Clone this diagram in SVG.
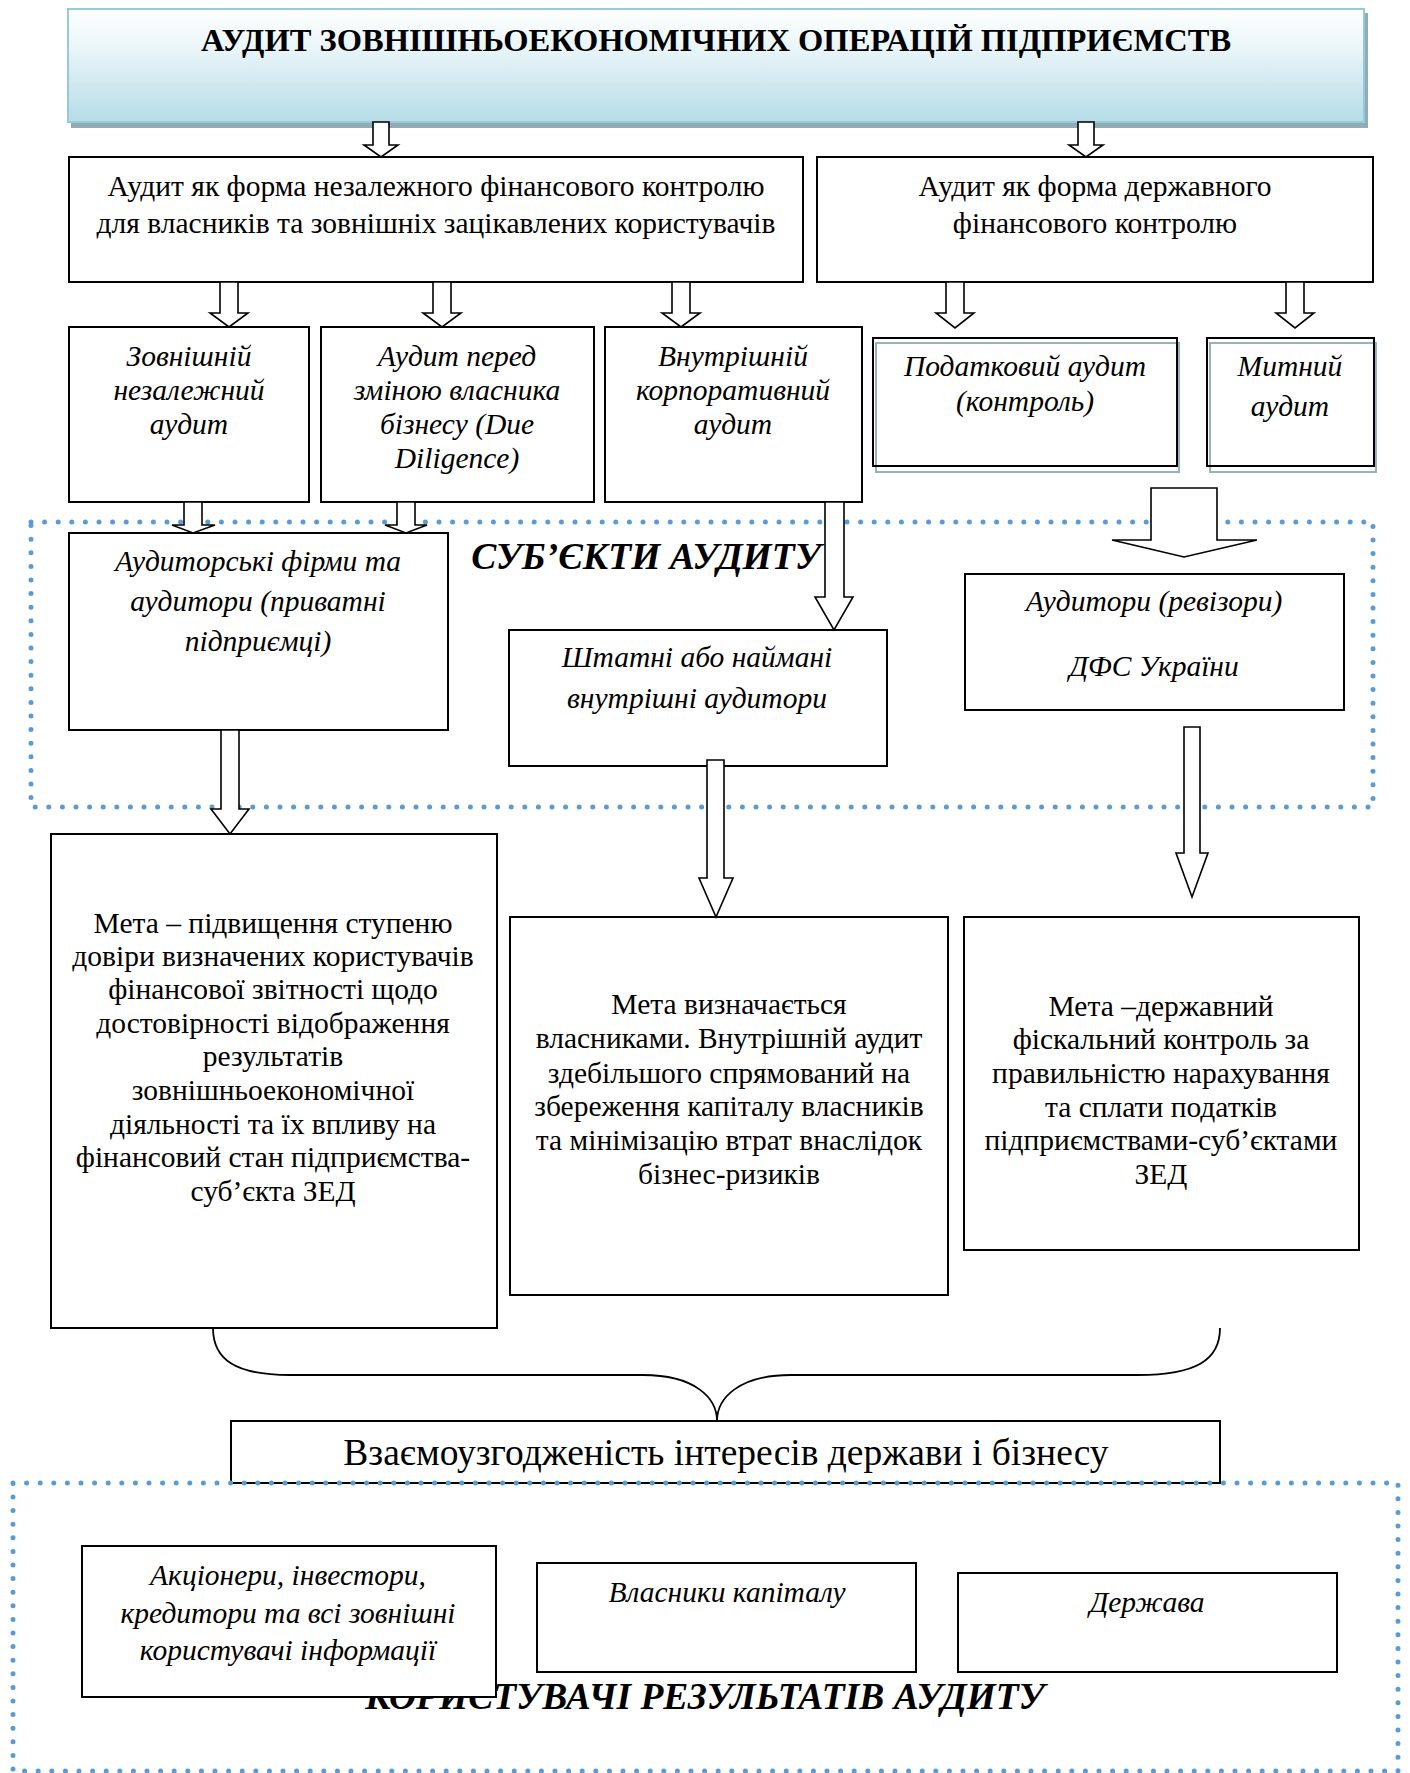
<svg xmlns="http://www.w3.org/2000/svg" width="1410" height="1773" viewBox="0 0 1410 1773">
<defs>
<linearGradient id="tg" x1="0" y1="0" x2="0" y2="1">
<stop offset="0" stop-color="#ffffff"/>
<stop offset="0.35" stop-color="#e9f5f8"/>
<stop offset="1" stop-color="#b5dce7"/>
</linearGradient>
<style>
.box{fill:#fff;stroke:#000;stroke-width:2}
.sh{fill:#fff;stroke:#98b2bc;stroke-width:2}
.arr{fill:#fff;stroke:#000;stroke-width:1.6;stroke-linejoin:miter}
.dot{fill:none;stroke:#5b9bd5;stroke-width:5;stroke-dasharray:0 13.6;stroke-linecap:round}
.br{fill:none;stroke:#000;stroke-width:1.8}
text{font-family:"Liberation Serif","Times New Roman",serif;fill:#000;text-anchor:middle}
.n{font-size:29.5px}
.i{font-size:29.5px;font-style:italic}
.h{font-size:32.5px;font-weight:bold}
.hi{font-size:37.5px;font-weight:bold;font-style:italic}
.big{font-size:37.5px}
</style>
</defs>
<rect width="1410" height="1773" fill="#fff"/>

<g id="title">
<rect x="71" y="13" width="1297" height="115" fill="#93abb5"/>
<rect x="68" y="9" width="1296" height="113" fill="url(#tg)" stroke="#94cbdb" stroke-width="2"/>
<text class="h" x="716" y="51">АУДИТ ЗОВНІШНЬОЕКОНОМІЧНИХ ОПЕРАЦІЙ ПІДПРИЄМСТВ</text>
</g>

<g id="indep">
<rect class="box" x="69" y="157" width="734" height="125"/>
<text class="n" x="436" y="196">Аудит як форма незалежного фінансового контролю</text>
<text class="n" x="436" y="233">для власників та зовнішніх зацікавлених користувачів</text>
</g>
<g id="state">
<rect class="box" x="817" y="157" width="556" height="125"/>
<text class="n" x="1095" y="196">Аудит як форма державного</text>
<text class="n" x="1095" y="233">фінансового контролю</text>
</g>

<g id="ext">
<rect class="box" x="69" y="327" width="240" height="175"/>
<text class="i" x="189" y="366">Зовнішній</text>
<text class="i" x="189" y="400">незалежний</text>
<text class="i" x="189" y="434">аудит</text>
</g>
<g id="dd">
<rect class="box" x="321" y="327" width="273" height="175"/>
<text class="i" x="457" y="366">Аудит перед</text>
<text class="i" x="457" y="400">зміною власника</text>
<text class="i" x="457" y="434">бізнесу (Due</text>
<text class="i" x="457" y="468">Diligence)</text>
</g>
<g id="corp">
<rect class="box" x="605" y="327" width="257" height="175"/>
<text class="i" x="733" y="366">Внутрішній</text>
<text class="i" x="733" y="400">корпоративний</text>
<text class="i" x="733" y="434">аудит</text>
</g>
<g id="tax">
<rect class="sh" x="876" y="343" width="303" height="129"/>
<rect x="873" y="338" width="304" height="128" fill="none" stroke="#000" stroke-width="2"/>
<text class="i" x="1025" y="376">Податковий аудит</text>
<text class="i" x="1025" y="411">(контроль)</text>
</g>
<g id="customs">
<rect class="sh" x="1210" y="343" width="166" height="129"/>
<rect x="1207" y="338" width="167" height="128" fill="none" stroke="#000" stroke-width="2"/>
<text class="i" x="1290" y="376">Митний</text>
<text class="i" x="1290" y="416">аудит</text>
</g>

<g id="subjects-frame">
<rect class="dot" x="31" y="522" width="1342" height="285"/>
<text class="hi" x="646" y="569">СУБ’ЄКТИ АУДИТУ</text>
</g>

<g id="firms">
<rect class="box" x="69" y="533" width="379" height="197"/>
<text class="i" x="258" y="571">Аудиторські фірми та</text>
<text class="i" x="258" y="611">аудитори (приватні</text>
<text class="i" x="258" y="651">підприємці)</text>
</g>
<g id="internal">
<rect class="box" x="509" y="630" width="378" height="136"/>
<text class="i" x="697" y="667">Штатні або наймані</text>
<text class="i" x="697" y="708">внутрішні аудитори</text>
</g>
<g id="dfs">
<rect class="box" x="965" y="574" width="379" height="136"/>
<text class="i" x="1154" y="611">Аудитори (ревізори)</text>
<text class="i" x="1154" y="676">ДФС України</text>
</g>

<g id="goal1">
<rect class="box" x="51" y="834" width="446" height="494"/>
<text class="n" x="273" y="933">Мета – підвищення ступеню</text>
<text class="n" x="273" y="966">довіри визначених користувачів</text>
<text class="n" x="273" y="999">фінансової звітності щодо</text>
<text class="n" x="273" y="1033">достовірності відображення</text>
<text class="n" x="273" y="1066">результатів</text>
<text class="n" x="273" y="1100">зовнішньоекономічної</text>
<text class="n" x="273" y="1134">діяльності та їх впливу на</text>
<text class="n" x="273" y="1167">фінансовий стан підприємства-</text>
<text class="n" x="273" y="1201">суб’єкта ЗЕД</text>
</g>
<g id="goal2">
<rect class="box" x="510" y="917" width="438" height="378"/>
<text class="n" x="729" y="1014">Мета визначається</text>
<text class="n" x="729" y="1048">власниками. Внутрішній аудит</text>
<text class="n" x="729" y="1083">здебільшого спрямований на</text>
<text class="n" x="729" y="1116">збереження капіталу власників</text>
<text class="n" x="729" y="1150">та мінімізацію втрат внаслідок</text>
<text class="n" x="729" y="1184">бізнес-ризиків</text>
</g>
<g id="goal3">
<rect class="box" x="964" y="917" width="395" height="333"/>
<text class="n" x="1161" y="1016">Мета –державний</text>
<text class="n" x="1161" y="1049">фіскальний контроль за</text>
<text class="n" x="1161" y="1083">правильністю нарахування</text>
<text class="n" x="1161" y="1117">та сплати податків</text>
<text class="n" x="1161" y="1150">підприємствами-суб’єктами</text>
<text class="n" x="1161" y="1184">ЗЕД</text>
</g>

<g id="balance">
<rect class="box" x="231" y="1421" width="989" height="62"/>
<text class="big" x="726" y="1465">Взаємоузгодженість інтересів держави і бізнесу</text>
</g>

<g id="users-frame">
<rect class="dot" x="13" y="1483" width="1385" height="288"/>
<text class="hi" x="705" y="1709">КОРИСТУВАЧІ РЕЗУЛЬТАТІВ АУДИТУ</text>
</g>
<g id="investors">
<rect class="box" x="82" y="1546" width="414" height="151"/>
<text class="i" x="288" y="1585">Акціонери, інвестори,</text>
<text class="i" x="288" y="1623">кредитори та всі зовнішні</text>
<text class="i" x="288" y="1660">користувачі інформації</text>
</g>
<g id="owners">
<rect class="box" x="537" y="1563" width="379" height="109"/>
<text class="i" x="727" y="1602">Власники капіталу</text>
</g>
<g id="stateuser">
<rect class="box" x="958" y="1573" width="379" height="99"/>
<text class="i" x="1147" y="1612">Держава</text>
</g>

<g id="connectors">
<polygon class="arr" points="373,122 389,122 389,145 398,145 381,157 364,145 373,145"/>
<polygon class="arr" points="1078,122 1094,122 1094,145 1103,145 1086,157 1069,145 1078,145"/>
<polygon class="arr" points="220,282 238,282 238,313 248,313 229,327 210,313 220,313"/>
<polygon class="arr" points="433,282 451,282 451,313 461,313 442,327 423,313 433,313"/>
<polygon class="arr" points="672,282 690,282 690,313 700,313 681,327 662,313 672,313"/>
<polygon class="arr" points="946,282 964,282 964,313 974,313 955,328 936,313 946,313"/>
<polygon class="arr" points="1286,282 1304,282 1304,313 1314,313 1295,328 1276,313 1286,313"/>
<polygon class="arr" points="184,502 202,502 202,525 215,525 193,533 172,525 184,525"/>
<polygon class="arr" points="397,502 415,502 415,525 427,525 406,533 385,525 397,525"/>
<polygon class="arr" points="825,502 844,502 844,597 853,597 834,630 815,597 825,597"/>
<polygon class="arr" points="1151,488 1217,488 1217,540 1257,540 1184,557 1112,540 1151,540"/>
<polygon class="arr" points="221,730 239,730 239,809 249,809 230,834 211,809 221,809"/>
<polygon class="arr" points="707,760 724,760 724,878 733,878 716,917 699,878 707,878"/>
<polygon class="arr" points="1184,727 1200,727 1200,853 1208,853 1192,897 1176,853 1184,853"/>
<path class="br" d="M213,1328 C213,1360 236,1375 290,1375 L643,1375 C695,1375 717,1398 717,1421 C717,1398 739,1375 791,1375 L1138,1375 C1196,1375 1220,1360 1220,1328"/>
</g>
</svg>
